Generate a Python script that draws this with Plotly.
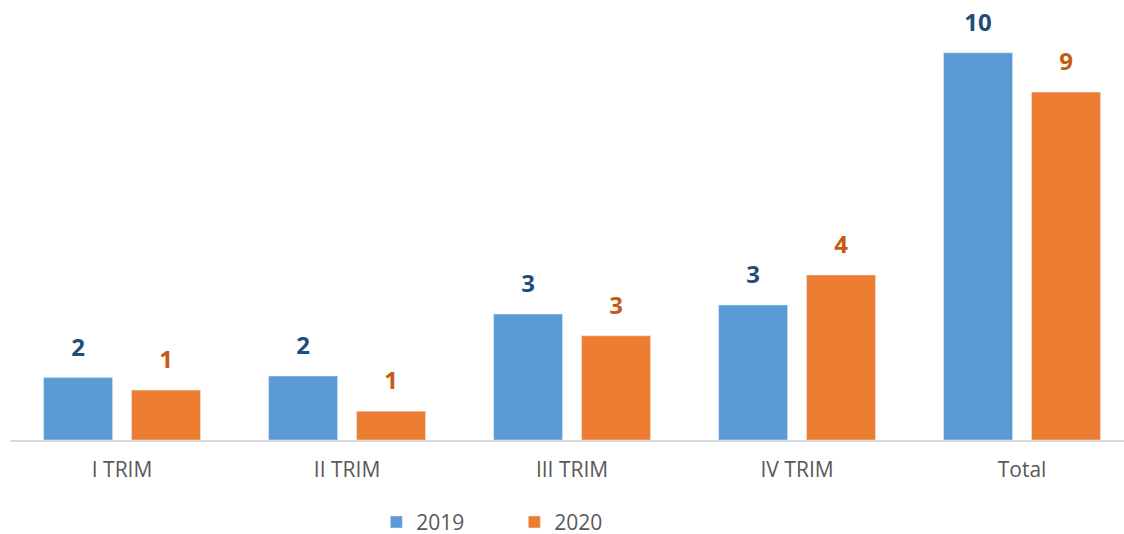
import plotly.graph_objects as go

categories = ["I TRIM", "II TRIM", "III TRIM", "IV TRIM", "Total"]
values_2019 = [1.60, 1.64, 3.23, 3.46, 9.93]
values_2020 = [1.28, 0.74, 2.67, 4.23, 8.92]

series = [
    ("2019", values_2019, "#5b9bd5", "#1f4e79", "a"),
    ("2020", values_2020, "#ed7d31", "#c55a11", "b"),
]

fig = go.Figure()
for name, vals, col, lab, grp in series:
    fig.add_trace(go.Bar(
        x=categories, y=vals, name=name,
        marker=dict(color=col),
        offsetgroup=grp, alignmentgroup="g",
    ))
for name, vals, col, lab, grp in series:
    fig.add_trace(go.Scatter(
        x=categories, y=vals, mode="markers+text",
        marker=dict(size=24, opacity=0),
        text=[f"{v:.0f}" for v in vals], textposition="top center",
        textfont=dict(family="Open Sans", size=24, color=lab, weight="bold"),
        offsetgroup=grp, alignmentgroup="g",
        showlegend=False, hoverinfo="skip", cliponaxis=False,
    ))

fig.update_layout(
    width=1124, height=534,
    margin=dict(l=10, r=0, t=20, b=94, autoexpand=False),
    paper_bgcolor="white", plot_bgcolor="white",
    barmode="group", bargap=0.218, bargroupgap=0.216,
    scattermode="group", scattergap=0.218,
    font=dict(family="Open Sans", size=21, color="#595959"),
    showlegend=True,
    legend=dict(orientation="h", x=0.4527, xanchor="center", yref="paper", y=-0.196, yanchor="middle",
                font=dict(size=21, color="#595959"), itemwidth=30, traceorder="normal",
                entrywidth=93, entrywidthmode="pixels"),
    xaxis=dict(range=[-0.498, 4.453], showline=True, linecolor="#d9d9d9", linewidth=2,
               ticks="", tickfont=dict(size=21, color="#595959"), showgrid=False,
               automargin=False, ticklabelstandoff=10),
    yaxis=dict(range=[0, 420/39], visible=False, showgrid=False, zeroline=False, automargin=False),
)
fig.write_html("out.html", config={"displayModeBar": False},
               post_script="document.body.style.margin='0';")
